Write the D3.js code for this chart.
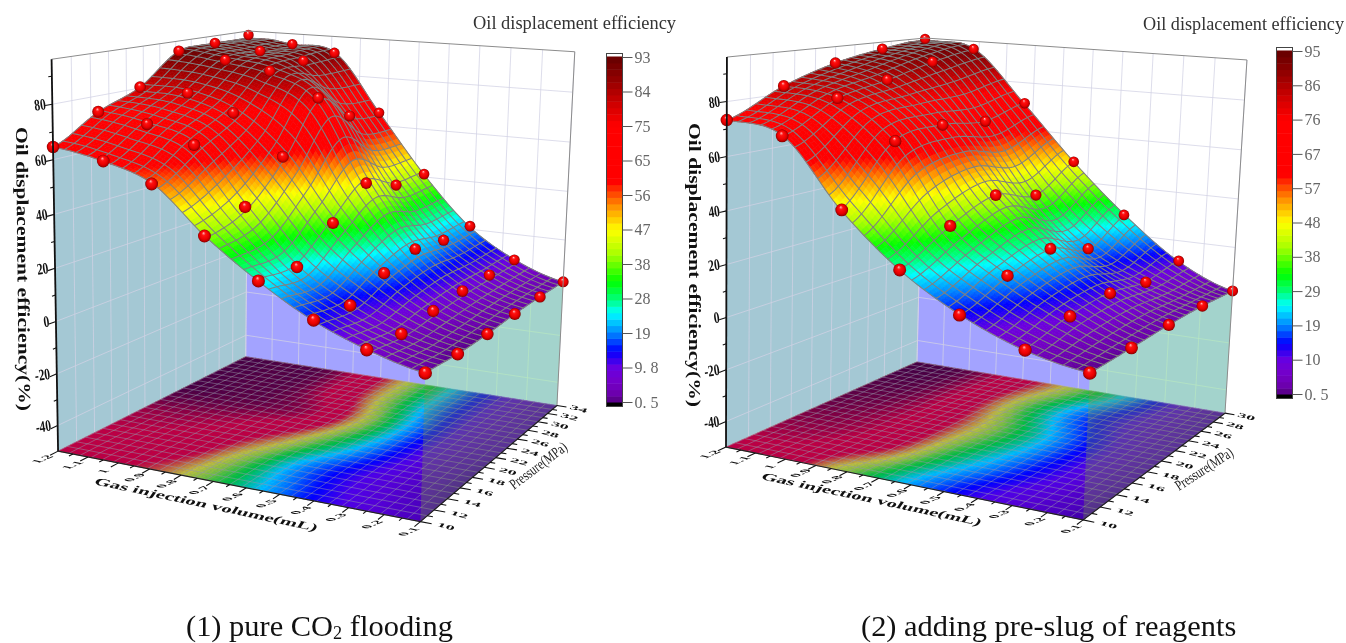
<!DOCTYPE html>
<html>
<head>
<meta charset="utf-8">
<script src="https://d3js.org/d3.v7.min.js"></script>
<style type="text/css">
  body { margin: 0; background: #fff; }
  svg { display: block; filter: blur(0.4px); }
  .serif { font-family: "Liberation Serif", serif; }
  .bar text { font-family: "Liberation Serif", serif; font-size: 16px; fill: #666; }
  .bar line { stroke: #555; }
  .bar path { display: none; }
</style>
</head>
<body>
<script type="text/javascript">
// values
var gasLeft = [1.2, 1.04, 0.89, 0.73, 0.57, 0.41, 0.26, 0.1];
var pressureLeft = [10, 14.8, 19.6, 24.4, 29.2, 34];
var effLeft = [
  [64.6, 74.0, 80.4, 92.0, 93.0, 94.3],
  [61.4, 71.1, 79.6, 89.7, 91.0, 91.6],
  [55.1, 65.1, 73.5, 86.7, 88.2, 89.1],
  [38.9, 44.3, 58.6, 77.7, 67.3, 65.3],
  [25.5, 24.6, 35.6, 46.2, 41.0, 41.2],
  [14.5, 13.2, 19.0, 22.6, 20.7, 21.3],
  [6.9, 5.5, 7.2, 8.5, 8.8, 9.3],
  [2.0, 1.2, 1.4, 2.3, 2.6, 2.6]
];
var gasRight = [1.2, 1.02, 0.83, 0.65, 0.47, 0.28, 0.1];
var pressureRight = [10, 15, 20, 25, 30];
var effRight = [
  [73.3, 83.0, 89.5, 93.2, 95.6],
  [69.6, 80.2, 84.5, 89.4, 92.7],
  [45.6, 66.2, 68.8, 66.9, 71.3],
  [27.0, 37.1, 43.7, 38.9, 48.3],
  [14.2, 21.5, 25.5, 19.6, 28.1],
  [5.5, 9.9, 11.5, 9.1, 11.5],
  [1.2, 1.8, 2.6, 2.7, 1.9]
];
var gasTicks = d3.range(12).map(function(i) { return 1.2 - i / 10; });
var gasTickLabels = ["1.2", "1.1", "1", "0.9", "0.8", "0.7", "0.6", "0.5", "0.4", "0.3", "0.2", "0.1"];
var pressureTicksLeft = d3.range(10, 35, 2);
var pressureTicksRight = d3.range(10, 31, 2);
var zTicks = [-40, -20, 0, 20, 40, 60, 80];
var barLabelsLeft = ["93", "84", "75", "65", "56", "47", "38", "28", "19", "9. 8", "0. 5"];
var barLabelsRight = ["95", "86", "76", "67", "57", "48", "38", "29", "19", "10", "0. 5"];

// colour map, as fractions of the colour bar
var colorStops = [0, 0.02, 0.06, 0.1, 0.15, 0.2, 0.26, 0.3, 0.35, 0.43, 0.5, 0.57, 0.64, 0.8, 0.86, 0.93, 1];
var colorVals = ["#500078", "#6a00a8", "#7400c8", "#6a00e0", "#0000ff", "#0082ff", "#00ffff", "#00ff78", "#00ff00",
                 "#aaff00", "#ffff00", "#ff8c00", "#ff0000", "#ff0000", "#d20000", "#960000", "#640000"];

var svg = d3.select("body").append("svg").attr("width", 1346).attr("height", 643);
var defs = svg.append("defs");
var ball = defs.append("radialGradient").attr("id", "ball")
  .attr("cx", "50%").attr("cy", "50%").attr("r", "50%").attr("fx", "42%").attr("fy", "26%");
[[0, "#ffe0e0"], [0.12, "#ff7070"], [0.3, "#ff1010"], [0.7, "#e80000"], [0.9, "#b00000"], [1, "#780000"]].forEach(function(s) {
  ball.append("stop").attr("offset", s[0]).attr("stop-color", s[1]);
});

// least squares fit of the box corners to a perspective camera
function solve(A, b) {
  var n = b.length;
  A = A.map(function(r, i) { return r.concat(b[i]); });
  for (var c = 0; c < n; c++) {
    var m = c;
    for (var r = c + 1; r < n; r++) if (Math.abs(A[r][c]) > Math.abs(A[m][c])) m = r;
    var t = A[c]; A[c] = A[m]; A[m] = t;
    for (r = 0; r < n; r++) if (r != c) {
      var f = A[r][c] / A[c][c];
      for (var k = c; k <= n; k++) A[r][k] -= f * A[c][k];
    }
  }
  return A.map(function(r, i) { return r[n] / r[i]; });
}
function fitCamera(cs) {
  var rows = [], rhs = [];
  cs.forEach(function(c) {
    var u = c[0], v = c[1], w = c[2], x = c[3], y = c[4];
    rows.push([u, v, w, 1, 0, 0, 0, 0, -x * u, -x * v, -x * w]); rhs.push(x);
    rows.push([0, 0, 0, 0, u, v, w, 1, -y * u, -y * v, -y * w]); rhs.push(y);
  });
  var N = d3.range(11).map(function(i) {
    return d3.range(11).map(function(j) { return d3.sum(rows, function(r) { return r[i] * r[j]; }); });
  });
  var B = d3.range(11).map(function(i) { return d3.sum(rows, function(r, k) { return r[i] * rhs[k]; }); });
  return solve(N, B);
}

function catmull(a, b, c, d, t) {
  return 0.5 * (2 * b + (c - a) * t + (2 * a - 5 * b + 4 * c - d) * t * t + (3 * b - a - 3 * c + d) * t * t * t);
}

function drawPanel(cfg) {
  var p = fitCamera(cfg.corners);
  var g = svg.append("g");
  var uScale = d3.scaleLinear().domain([1.2, 0.1]).range([0, 1]);
  var vScale = d3.scaleLinear().domain([cfg.pressure[0], cfg.pressure[cfg.pressure.length - 1]]).range([0, 1]);
  var wScale = d3.scaleLinear().domain([-50, 96]).range([0, 1]);
  var tScale = d3.scaleLinear().domain([0.5, cfg.max]).range([0, 1]);
  var ramp = d3.scaleLinear().domain(colorStops).range(colorVals).clamp(true);
  var color = function(z) { return ramp(tScale(z)); };

  function proj(u, v, w) {
    var d = p[8] * u + p[9] * v + p[10] * w + 1;
    return [(p[0] * u + p[1] * v + p[2] * w + p[3]) / d, (p[4] * u + p[5] * v + p[6] * w + p[7]) / d, d];
  }
  var line = d3.line();
  function poly(pts) { return line(pts) + "Z"; }
  function seg(a, b) { return line([a, b]); }

  // smooth surface through the measured points, on the mesh + sub-mesh grid
  var ni = cfg.gas.length, nj = cfg.pressure.length;
  function at(i, j) {
    return cfg.eff[Math.max(0, Math.min(ni - 1, i))][Math.max(0, Math.min(nj - 1, j))];
  }
  function surf(u, v) {
    var fi = u * (ni - 1), fj = v * (nj - 1);
    var i = Math.min(ni - 2, Math.floor(fi)), j = Math.min(nj - 2, Math.floor(fj));
    var col = [-1, 0, 1, 2].map(function(di) {
      return catmull(at(i + di, j - 1), at(i + di, j), at(i + di, j + 1), at(i + di, j + 2), fj - j);
    });
    var z = catmull(col[0], col[1], col[2], col[3], fi - i);
    return Math.max(0.5, Math.min(cfg.max, z));
  }
  var meshU = 30, meshV = 24, sub = 3;
  var nU = meshU * sub, nV = meshV * sub;
  var grid = d3.range(nU + 1).map(function(i) {
    return d3.range(nV + 1).map(function(j) { return surf(i / nU, j / nV); });
  });
  var top = function(i, j) { return proj(i / nU, j / nV, wScale(grid[i][j])).slice(0, 2); };
  var flo = function(i, j) { return proj(i / nU, j / nV, 0).slice(0, 2); };
  var P = function(u, v, w) { return proj(u, v, w).slice(0, 2); };
  var A = P(0, 0, 0), B = P(1, 0, 0), C = P(1, 1, 0), D = P(0, 1, 0);

  // walls, filled below the edge curves of the surface
  g.append("path").attr("fill", "#a4c8d4")
    .attr("d", poly(d3.range(nV + 1).map(function(j) { return top(0, j); }).concat([D, A])));
  g.append("path").attr("fill", "#a3a3ff")
    .attr("d", poly(d3.range(nU + 1).map(function(i) { return top(i, nV); }).concat([C, D])));

  var wallLine = "rgba(210,210,228,0.75)";
  zTicks.forEach(function(z) {
    var w = wScale(z);
    g.append("path").attr("d", line([P(0, 0, w), P(0, 1, w), P(1, 1, w)]))
      .attr("fill", "none").attr("stroke", wallLine).attr("stroke-width", 1);
  });
  cfg.pTicks.forEach(function(t) {
    var v = vScale(t);
    g.append("path").attr("d", seg(P(0, v, 0), P(0, v, 1)))
      .attr("stroke", wallLine).attr("stroke-width", 1);
  });
  gasTicks.forEach(function(t) {
    var u = uScale(t);
    g.append("path").attr("d", seg(P(u, 1, 0), P(u, 1, 1)))
      .attr("stroke", wallLine).attr("stroke-width", 1);
  });

  // curtain on the low gas side
  var curtain = poly(d3.range(nV + 1).map(function(j) { return top(nU, j); }).concat([C, B]));
  g.append("path").attr("fill", "rgb(163,243,170)").attr("fill-opacity", 0.6).attr("d", curtain);

  // floor projection
  g.append("path").attr("fill", "#0000ff").attr("d", poly([A, B, C, D]));
  var floorCells = g.append("g").attr("opacity", 0.75);
  d3.range(nU).forEach(function(i) {
    d3.range(nV).forEach(function(j) {
      var c = color((grid[i][j] + grid[i + 1][j] + grid[i][j + 1] + grid[i + 1][j + 1]) / 4);
      floorCells.append("path").attr("d", poly([flo(i, j), flo(i + 1, j), flo(i + 1, j + 1), flo(i, j + 1)]))
        .attr("fill", c).attr("stroke", c).attr("stroke-width", 0.6);
    });
  });
  var floorMesh = g.append("g").attr("stroke", "rgba(150,150,170,0.55)").attr("stroke-width", 0.9).attr("fill", "none");
  d3.range(0, meshU + 1).forEach(function(i) { floorMesh.append("path").attr("d", seg(P(i / meshU, 0, 0), P(i / meshU, 1, 0))); });
  d3.range(0, meshV + 1).forEach(function(j) { floorMesh.append("path").attr("d", seg(P(0, j / meshV, 0), P(1, j / meshV, 0))); });

  var clipId = "floor" + cfg.id;
  defs.append("clipPath").attr("id", clipId).append("path").attr("d", poly([A, B, C, D]));
  g.append("path").attr("d", curtain).attr("clip-path", "url(#" + clipId + ")")
    .attr("fill", "rgb(120,160,60)").attr("fill-opacity", 0.32);

  // surface, far corner first
  var cells = g.append("g");
  d3.range(nU).forEach(function(i) {
    d3.range(nV - 1, -1, -1).forEach(function(j) {
      var c = color((grid[i][j] + grid[i + 1][j] + grid[i][j + 1] + grid[i + 1][j + 1]) / 4);
      cells.append("path").attr("d", poly([top(i, j), top(i + 1, j), top(i + 1, j + 1), top(i, j + 1)]))
        .attr("fill", c).attr("stroke", c).attr("stroke-width", 0.6);
    });
  });
  var mesh = g.append("g").attr("fill", "none").attr("stroke", "#808080").attr("stroke-width", 1.05);
  d3.range(0, nU + 1, sub).forEach(function(i) {
    mesh.append("path").attr("d", line(d3.range(nV + 1).map(function(j) { return top(i, j); })));
  });
  d3.range(0, nV + 1, sub).forEach(function(j) {
    mesh.append("path").attr("d", line(d3.range(nU + 1).map(function(i) { return top(i, j); })));
  });

  // measured points
  var pts = [];
  cfg.gas.forEach(function(x, i) {
    cfg.pressure.forEach(function(y, j) {
      var q = proj(uScale(x), vScale(y), wScale(cfg.eff[i][j]));
      pts.push({ x: q[0], y: q[1], r: 6 / q[2], i: i, j: j });
    });
  });
  g.selectAll("circle.pt").data(pts).enter().append("circle").attr("class", "pt")
    .attr("cx", function(d) { return d.x; }).attr("cy", function(d) { return d.y; })
    .attr("r", function(d) { return d.r; }).attr("fill", "url(#ball)");

  // frame and axes
  g.append("path").attr("d", line([P(0, 0, 1), P(0, 1, 1), P(1, 1, 1), C]))
    .attr("fill", "none").attr("stroke", "#8c8c8c").attr("stroke-width", 1);
  g.append("path").attr("d", seg(P(0, 0, 0), P(0, 0, 1))).attr("stroke", "#111").attr("stroke-width", 1.8);
  g.append("path").attr("d", line([A, B, C])).attr("fill", "none").attr("stroke", "#222").attr("stroke-width", 1.2);

  var ticks = g.append("g").attr("stroke", "#111").attr("stroke-width", 1.1);
  d3.range(-40, 96, 10).forEach(function(z) {
    var w = wScale(z);
    ticks.append("path").attr("d", seg(P(0, 0, w), P(0, z % 20 == 0 ? -0.03 : -0.015, w)));
  });
  d3.range(0.1, 1.2001, 0.05).forEach(function(t, n) {
    var u = uScale(t);
    ticks.append("path").attr("d", seg(P(u, 0, 0), P(u, n % 2 == 0 ? -0.035 : -0.018, 0)));
  });
  d3.range(cfg.pTicks[0], cfg.pTicks[cfg.pTicks.length - 1] + 0.1, 1).forEach(function(t, n) {
    var v = vScale(t);
    ticks.append("path").attr("d", seg(P(1, v, 0), P(n % 2 == 0 ? 1.028 : 1.014, v, 0)));
  });

  var labels = g.append("g").attr("class", "serif").attr("font-weight", "bold").attr("fill", "#111");
  zTicks.forEach(function(z) {
    var q = P(0, 0, wScale(z));
    labels.append("text").text(z).attr("text-anchor", "end").attr("font-size", 16)
      .attr("transform", "translate(" + (q[0] - 6) + "," + (q[1] + 5) + ") rotate(-8) scale(0.72,1)");
  });
  // these tick labels lie flat on the floor, sheared along its two directions
  gasTicks.forEach(function(t, n) {
    var q = P(uScale(t), -0.07, 0);
    labels.append("text").text(gasTickLabels[n]).attr("text-anchor", "middle").attr("font-size", 12).attr("dy", "0.33em")
      .attr("transform", "matrix(1.1,-0.48,0.95,0.2," + q[0] + "," + q[1] + ")");
  });
  cfg.pTicks.forEach(function(t) {
    var q = P(1.06, vScale(t), 0);
    labels.append("text").text(t).attr("text-anchor", "middle").attr("font-size", 13)
      .attr("transform", "translate(" + q[0] + "," + (q[1] + 2) + ") rotate(15) skewX(-18) scale(1.35,0.5)");
  });

  labels.append("text").text("Oil displacement efficiency(%)")
    .attr("font-size", 17).attr("textLength", 284).attr("lengthAdjust", "spacingAndGlyphs")
    .attr("transform", "translate(" + cfg.zTitle[0] + "," + cfg.zTitle[1] + ") rotate(" + cfg.zTitle[2] + ")");
  labels.append("text").text("Gas injection volume(mL)")
    .attr("font-size", 15).attr("textLength", cfg.gasTitle[2]).attr("lengthAdjust", "spacingAndGlyphs")
    .attr("transform", "translate(" + cfg.gasTitle[0] + "," + cfg.gasTitle[1] + ") rotate(" + cfg.gasTitle[3] + ") skewX(-22) scale(1,0.72)");
  g.append("text").attr("class", "serif").text("Pressure(MPa)").attr("fill", "#222")
    .attr("font-size", 15).attr("textLength", cfg.pTitle[2]).attr("lengthAdjust", "spacingAndGlyphs")
    .attr("transform", "translate(" + cfg.pTitle[0] + "," + cfg.pTitle[1] + ") rotate(" + cfg.pTitle[3] + ")");

  // colour bar
  var b = cfg.bar;
  var levels = d3.range(54);
  var bar = g.append("g").attr("class", "bar");
  var bandY = d3.scaleBand().domain(levels).range([b.bottom - 4, b.top + 3]);
  bar.selectAll("rect.lv").data(levels).enter().append("rect").attr("class", "lv")
    .attr("x", b.x).attr("width", b.w)
    .attr("y", function(d) { return bandY(d); }).attr("height", bandY.bandwidth() + 0.5)
    .attr("fill", function(d) { return ramp((d + 0.5) / levels.length); });
  bar.append("rect").attr("x", b.x).attr("y", b.bottom - 4).attr("width", b.w).attr("height", 4).attr("fill", "#000");
  bar.append("rect").attr("x", b.x).attr("y", b.top).attr("width", b.w).attr("height", b.bottom - b.top)
    .attr("fill", "none").attr("stroke", "#444").attr("stroke-width", 1);
  var barY = d3.scalePoint().domain(cfg.barLabels).range([b.t0, b.t1]);
  bar.append("g").attr("transform", "translate(" + (b.x + b.w) + ",0)")
    .call(d3.axisRight(barY).tickSize(10).tickPadding(2));

  svg.append("text").attr("class", "serif").text("Oil displacement efficiency")
    .attr("x", cfg.title[0]).attr("y", cfg.title[1]).attr("font-size", 18).attr("fill", "#333")
    .attr("textLength", cfg.title[2]).attr("lengthAdjust", "spacingAndGlyphs");
}

drawPanel({
  id: "L", gas: gasLeft, pressure: pressureLeft, eff: effLeft, max: 93, pTicks: pressureTicksLeft, barLabels: barLabelsLeft,
  corners: [[0, 0, 0, 58, 451], [1, 0, 0, 420, 522], [1, 1, 0, 557, 405], [0, 1, 0, 246, 357], [0, 0, 1, 52, 59], [0, 1, 1, 248, 31], [1, 1, 1, 575, 52]],
  zTitle: [16, 127, 89.4], gasTitle: [93, 484, 227, 12], pTitle: [514, 490, 68, -37],
  bar: { x: 606.5, w: 16, top: 53.5, bottom: 406.5, t0: 57, t1: 402 }, title: [473, 29, 203]
});
drawPanel({
  id: "R", gas: gasRight, pressure: pressureRight, eff: effRight, max: 95, pTicks: pressureTicksRight, barLabels: barLabelsRight,
  corners: [[0, 0, 0, 726, 447], [1, 0, 0, 1083, 520], [1, 1, 0, 1225, 413], [0, 1, 0, 917, 362], [0, 0, 1, 727, 57], [0, 1, 1, 925, 38], [1, 1, 1, 1247, 60]],
  zTitle: [689, 123, 90], gasTitle: [760, 479, 224, 12], pTitle: [1179, 491, 66, -33],
  bar: { x: 1276.5, w: 16, top: 47.5, bottom: 398.5, t0: 51, t1: 394 }, title: [1143, 30, 201]
});

var caption = svg.append("g").attr("class", "serif").attr("font-size", 30).attr("fill", "#111");
var c1 = caption.append("text").attr("transform", "translate(186,636) scale(1.015,1)");
c1.append("tspan").text("(1) pure CO");
c1.append("tspan").text("2").attr("font-size", 18).attr("dy", 3);
c1.append("tspan").text(" flooding").attr("dy", -3);
caption.append("text").attr("transform", "translate(861,636) scale(1.015,1)").text("(2) adding pre-slug of reagents");
</script>
</body>
</html>
